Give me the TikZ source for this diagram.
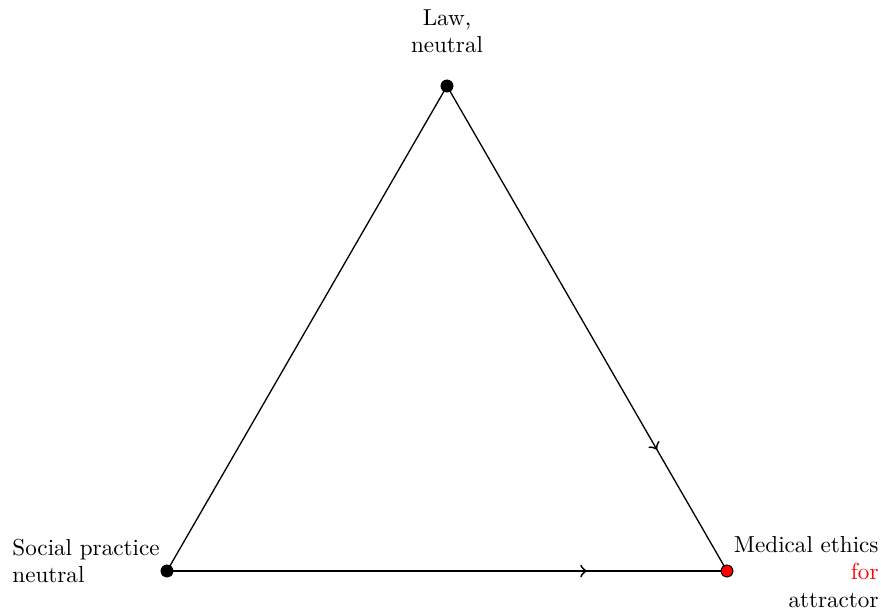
\documentclass[tikz,border=0pt]{standalone}
\usetikzlibrary{decorations.markings}
\begin{document}
\begin{tikzpicture}[x=0.4586pt,y=-0.4586pt,
  vertex/.style={circle,draw=black,fill=black,inner sep=0pt,minimum size=5.4pt,line width=0.4pt},
  redvertex/.style={vertex,fill=red},
  edge/.style={line width=0.6pt,black},
  midarrow/.style={postaction={decorate},decoration={markings,mark=at position 0.75 with {\arrow[line width=0.6pt,scale=1.4]{>}}}},
  lbl/.style={inner sep=0pt,font=\fontsize{10.6}{12.6}\selectfont}]
\useasboundingbox (0,0) rectangle (881,611);
\node[vertex] (L) at (447,86) {};
\node[vertex] (S) at (167,571) {};
\node[redvertex] (M) at (727,571) {};
\draw[edge] (S.center) -- (L.center);
\draw[edge,midarrow] (L.center) -- (M.center);
\draw[edge,midarrow] (S.center) -- (M.center);
\node[vertex] at (L) {};
\node[vertex] at (S) {};
\node[redvertex] at (M) {};
\node[lbl,align=center,anchor=center] (tL) at (447,31) {Law,\\neutral};
\node[lbl,align=left,anchor=west] (tS) at (12,561) {Social practice\\neutral};
\node[lbl,align=right,anchor=east] (tM) at (879,572) {Medical ethics\\\textcolor{red}{for}\\attractor};
\end{tikzpicture}
\end{document}
